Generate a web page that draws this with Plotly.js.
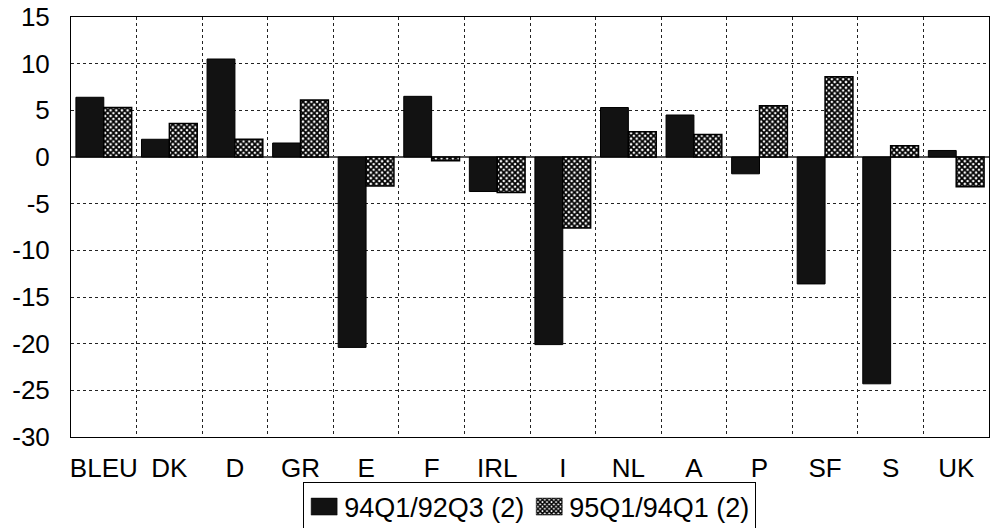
<!DOCTYPE html>
<html><head><meta charset="utf-8">
<script src="https://cdn.plot.ly/plotly-3.0.1.min.js"></script>
<style>html,body{margin:0;padding:0;background:#fff}#chart{width:990px;height:528px}</style>
</head><body><div id="chart"></div>
<script>
const categories = ["BLEU","DK","D","GR","E","F","IRL","I","NL","A","P","SF","S","UK"];
const series1Name = "94Q1/92Q3 (2)";
const series1 = [6.4, 1.9, 10.5, 1.5, -20.4, 6.5, -3.7, -20.1, 5.3, 4.5, -1.8, -13.6, -24.3, 0.7];
const series2Name = "95Q1/94Q1 (2)";
const series2 = [5.3, 3.6, 1.9, 6.1, -3.1, -0.4, -3.8, -7.6, 2.7, 2.4, 5.5, 8.6, 1.2, -3.2];
const yTicks = [15, 10, 5, 0, -5, -10, -15, -20, -25, -30];

const font = {family: "Liberation Sans, Arial, sans-serif", size: 26, color: "#000"};
const legendFont = {family: "Liberation Sans, Arial, sans-serif", size: 27, color: "#000"};
const data = [
  {type: "bar", name: series1Name, x: categories, y: series1,
   marker: {color: "#121212", line: {color: "#000", width: 1}}},
  {type: "bar", name: series2Name, x: categories, y: series2,
   marker: {color: "#fff", line: {color: "#000", width: 1.5},
            pattern: {shape: "x", fgcolor: "#000", bgcolor: "#fff", size: 4, solidity: 0.7}}}
];
const layout = {
  width: 990, height: 528,
  margin: {l: 71, r: 1, t: 17, b: 91, autoexpand: false},
  paper_bgcolor: "#fff", plot_bgcolor: "#fff",
  font: font,
  barmode: "group", bargap: 0.15, bargroupgap: 0,
  showlegend: true,
  legend: {orientation: "h", xref: "container", yref: "container",
           x: 0.535, xanchor: "center", y: 0.088, yanchor: "top",
           bordercolor: "#000", borderwidth: 1, font: legendFont, itemwidth: 30,
           tracegroupgap: 0, traceorder: "normal"},
  xaxis: {type: "category", tickson: "boundaries", showgrid: true, gridcolor: "#222",
          griddash: "dot", gridwidth: 1, ticks: "", ticklabelstandoff: 8,
          tickangle: 0, automargin: false,
          showline: true, linecolor: "#000", linewidth: 1, mirror: true, tickfont: font},
  yaxis: {range: [-30, 15], tickvals: yTicks, ticktext: yTicks.map(String),
          showgrid: true, gridcolor: "#222", griddash: "dot", gridwidth: 1,
          zeroline: true, zerolinecolor: "#555", zerolinewidth: 1.5,
          ticks: "", ticklabelstandoff: 15, automargin: false,
          showline: true, linecolor: "#000", linewidth: 1, mirror: true, tickfont: font}
};
Plotly.newPlot("chart", data, layout, {staticPlot: true, displayModeBar: false}).then(function(gd){
  gd.querySelectorAll(".legendpoints path").forEach(function(p){
    p.setAttribute("d", "M13,8.5H-13V-8.5H13Z");
    p.style.strokeWidth = "0.5px";
  });
});
</script></body></html>
